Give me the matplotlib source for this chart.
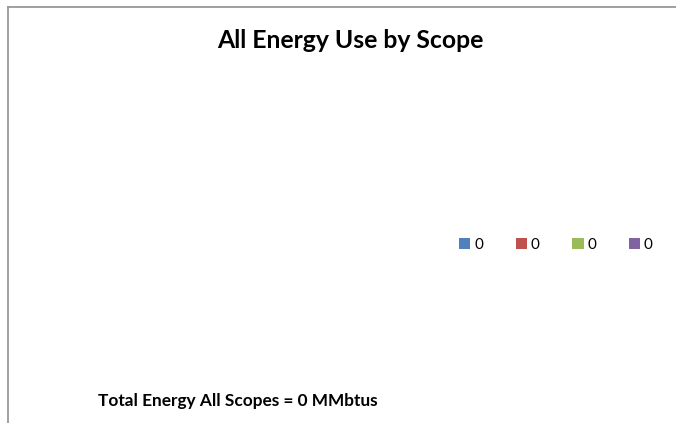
import matplotlib.pyplot as plt
from matplotlib.patches import Patch
from matplotlib.lines import Line2D

# scope totals (all zero in the source sheet)
scope_values = [0, 0, 0, 0]
scope_colors = ['#4F81BD', '#C0504D', '#9BBB59', '#8064A2']
total_mmbtus = sum(scope_values)

plt.rcParams['font.family'] = ['Lato', 'DejaVu Sans']

W, H = 676, 423
fig = plt.figure(figsize=(W / 100, H / 100), dpi=100)
fig.patch.set_facecolor('white')

# pie area - nothing to draw when every slice is zero
ax = fig.add_axes([0.05, 0.12, 0.55, 0.7])
ax.set_aspect('equal')
ax.axis('off')
if sum(scope_values) > 0:
    ax.pie(scope_values, colors=scope_colors)

fig.text(350 / W, 1 - 40 / H, 'All Energy Use by Scope', ha='center', va='center',
         fontsize=17.8, fontweight='bold')
fig.text(98 / W, 1 - 401 / H, f'Total Energy All Scopes = {total_mmbtus} MMbtus',
         ha='left', va='center', fontsize=12.4, fontweight='bold')

handles = [Patch(facecolor=c, edgecolor='none') for c in scope_colors]
labels = [str(v) for v in scope_values]
fig.legend(handles, labels, ncol=4, loc='center left',
           bbox_to_anchor=(459 / W, 1 - 245 / H), frameon=False,
           fontsize=11, handlelength=0.75, handleheight=0.75,
           handletextpad=0.25, columnspacing=2.12, borderpad=0,
           borderaxespad=0)

# chart border (top and left edges visible)
line_color = '#999999'
fig.add_artist(Line2D([8 / W, 1], [1 - 7 / H, 1 - 7 / H], color=line_color, lw=1.3,
                      transform=fig.transFigure))
fig.add_artist(Line2D([8 / W, 8 / W], [0, 1 - 7 / H], color=line_color, lw=1.3,
                      transform=fig.transFigure))

fig.savefig('out.png', dpi=100)
